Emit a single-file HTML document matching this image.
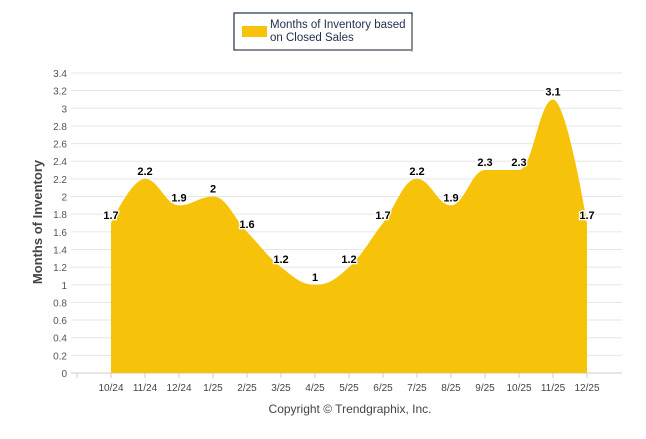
<!DOCTYPE html>
<html><head><meta charset="utf-8"><style>
body{margin:0;background:#fff;font-family:"Liberation Sans",sans-serif;}
svg text{font-family:"Liberation Sans",sans-serif;}
</style></head><body>
<svg id="c" width="646" height="434">
<rect x="234" y="13" width="178" height="37" fill="#fff" stroke="#1f2d4d" stroke-width="1.2"/>
<rect x="411" y="15" width="2" height="37" fill="#999" opacity="0.5"/>
<rect x="236" y="49" width="177" height="2" fill="#999" opacity="0.5"/>
<rect x="242" y="26" width="25" height="11" fill="#f7c30a"/>
<text x="270" y="28" font-size="11.5" fill="#1f2d4d">Months of Inventory based</text>
<text x="270" y="41" font-size="11.5" fill="#1f2d4d">on Closed Sales</text>
<g id="grid"></g>
<path id="area" fill="#f7c30a"/>
<g id="labels"></g>
<text x="42" y="222" font-size="13" font-weight="bold" fill="#444" text-anchor="middle" transform="rotate(-90 42 222)">Months of Inventory</text>
<text x="350" y="413" font-size="12" fill="#444" text-anchor="middle">Copyright © Trendgraphix, Inc.</text>
</svg>
<script>
const categories=["10/24","11/24","12/24","1/25","2/25","3/25","4/25","5/25","6/25","7/25","8/25","9/25","10/25","11/25","12/25"];
const values=[1.7,2.2,1.9,2,1.6,1.2,1,1.2,1.7,2.2,1.9,2.3,2.3,3.1,1.7];
const yTicks=[0,0.2,0.4,0.6,0.8,1,1.2,1.4,1.6,1.8,2,2.2,2.4,2.6,2.8,3,3.2,3.4];
const NS="http://www.w3.org/2000/svg";
const x=i=>111+i*34;
const y=v=>373-v/3.4*300;
function mk(t,a,p){const e=document.createElementNS(NS,t);for(const k in a)e.setAttribute(k,a[k]);p.appendChild(e);return e;}
const grid=document.getElementById('grid');
yTicks.forEach(t=>{
 const l=mk('line',{x1:71,x2:622,y1:y(t),y2:y(t),stroke:t===0?'#ccc':'#e6e6e6','stroke-width':1},grid);
 
 
 const tx=mk('text',{x:67,y:y(t)+4,'font-size':10,fill:'#555','text-anchor':'end'},grid);
 tx.textContent=String(t);
 
 
});
for(let i=-1;i<categories.length;i++){mk('line',{x1:x(i),x2:x(i),y1:373,y2:378,stroke:'#ccc'},grid);}
categories.forEach((c,i)=>{
 const tx=mk('text',{x:x(i),y:391,'font-size':10,fill:'#444','text-anchor':'middle'},grid);
 tx.textContent=c;
 
 
});
// spline
const pts=values.map((v,i)=>[x(i),y(v)]);
let d=`M${pts[0][0]},373L${pts[0][0]},${pts[0][1]}`;
const s=1.5;
function ctrl(i){
 const p=pts[i],a=pts[i-1],b=pts[i+1];
 if(!a||!b)return [p,p];
 let lx=(s*p[0]+a[0])/(s+1),ly=(s*p[1]+a[1])/(s+1),rx=(s*p[0]+b[0])/(s+1),ry=(s*p[1]+b[1])/(s+1);
 let corr=0;if(rx!==lx)corr=((ry-ly)*(rx-p[0]))/(rx-lx)+p[1]-ry;
 ly+=corr;ry+=corr;
 if(ly>Math.max(a[1],p[1])){ly=Math.max(a[1],p[1]);ry=2*p[1]-ly;}else if(ly<Math.min(a[1],p[1])){ly=Math.min(a[1],p[1]);ry=2*p[1]-ly;}
 if(ry>Math.max(b[1],p[1])){ry=Math.max(b[1],p[1]);ly=2*p[1]-ry;}else if(ry<Math.min(b[1],p[1])){ry=Math.min(b[1],p[1]);ly=2*p[1]-ry;}
 return [[lx,ly],[rx,ry]];
}
const cs=pts.map((p,i)=>ctrl(i));
for(let i=1;i<pts.length;i++){
 const c1=cs[i-1][1],c2=cs[i][0];
 d+=`C${c1[0]},${c1[1]} ${c2[0]},${c2[1]} ${pts[i][0]},${pts[i][1]}`;
}
d+=`L${pts[pts.length-1][0]},373Z`;
document.getElementById('area').setAttribute('d',d);
const lab=document.getElementById('labels');
values.forEach((v,i)=>{
 const tx=mk('text',{x:x(i),y:y(v)-4,'font-size':11,'font-weight':'bold',fill:'#000','text-anchor':'middle',stroke:'#fff','stroke-width':2.5,'paint-order':'stroke'},lab);
 tx.textContent=String(v);
 
 
});
</script>
</body></html>
